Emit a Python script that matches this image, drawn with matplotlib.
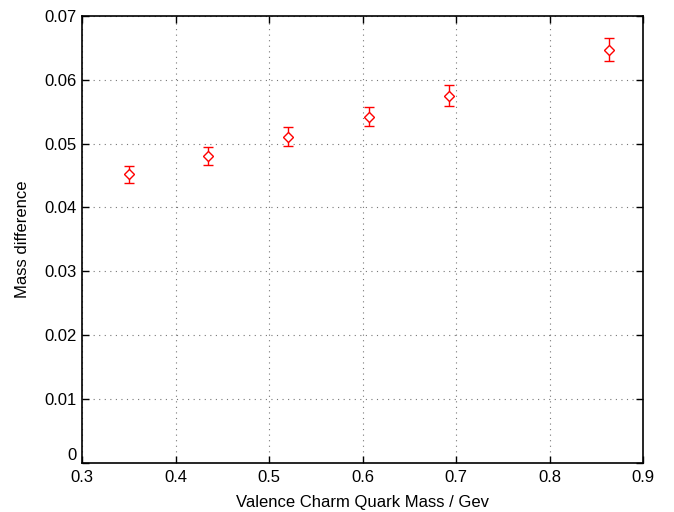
import matplotlib
matplotlib.use("Agg")
import matplotlib.pyplot as plt

# valence charm quark mass (GeV) vs mass difference
quark_mass = [0.350, 0.435, 0.520, 0.607, 0.692, 0.864]
mass_diff = [0.0452, 0.0481, 0.0511, 0.0542, 0.0575, 0.0647]
mass_err = [0.0013, 0.0014, 0.0015, 0.0015, 0.0016, 0.0018]

x_ticks = [0.3, 0.4, 0.5, 0.6, 0.7, 0.8, 0.9]
y_ticks = [0, 0.01, 0.02, 0.03, 0.04, 0.05, 0.06, 0.07]

plt.rcParams['font.family'] = ['Liberation Sans', 'DejaVu Sans']
plt.rcParams['font.size'] = 12

fig = plt.figure(figsize=(6.74, 5.12), dpi=100)
ax = fig.add_axes([0.1217, 0.0957, 0.8323, 0.8733])

ax.errorbar(quark_mass, mass_diff, yerr=mass_err, fmt='D', color='#ff0000',
            markerfacecolor='white', markeredgecolor='#ff0000', markersize=5,
            markeredgewidth=1.0, elinewidth=1.0, capsize=3.5, capthick=1.0)

ax.set_xlim(0.3, 0.9)
ax.set_ylim(0, 0.07)
ax.set_xticks(x_ticks)
ax.set_yticks(y_ticks)
ax.set_xticklabels([f"{t:g}" for t in x_ticks])
ax.set_yticklabels([f"{t:g}" for t in y_ticks])

ax.grid(True, linestyle=(0, (1, 4)), color='#777777', linewidth=0.8)
ax.tick_params(direction='in', top=True, right=True, length=5, width=1)
ax.tick_params(axis='x', pad=5)
ax.tick_params(axis='y', pad=4)
for s in ax.spines.values():
    s.set_linewidth(1.2)

# nudge the bottom y label up a little so it clears the first x label
ax.get_yticklabels()[0].set_va('bottom')

ax.set_xlabel("Valence Charm Quark Mass / Gev", labelpad=7)
ax.set_ylabel("Mass difference", labelpad=10)

fig.savefig("out.png", dpi=100)
